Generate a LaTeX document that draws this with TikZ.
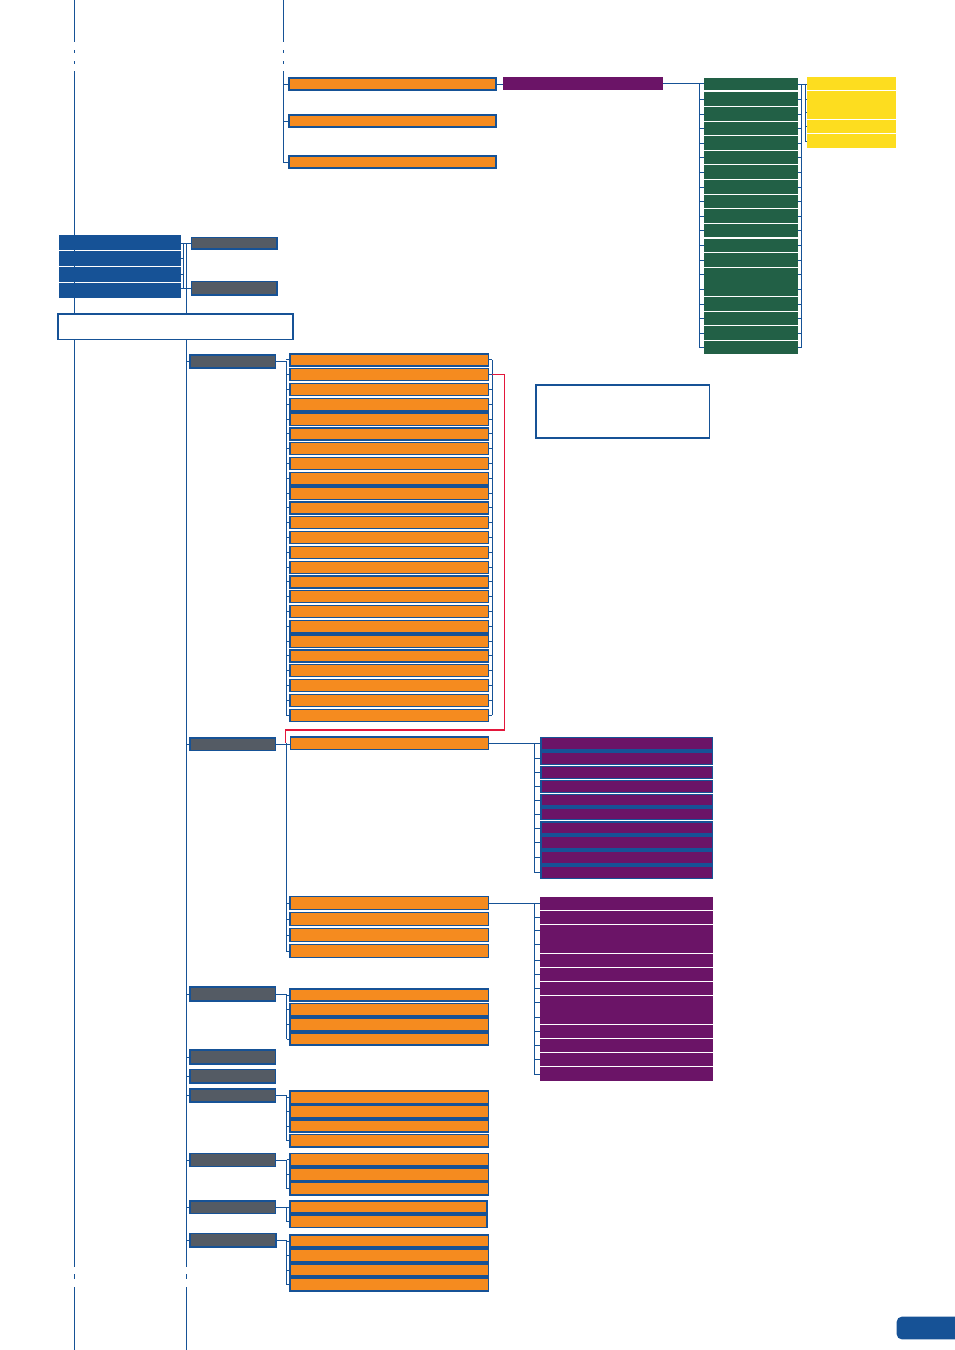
\documentclass[tikz,border=0pt]{standalone}
\usetikzlibrary{calc}
\definecolor{lb}{RGB}{22,82,150}
\definecolor{og}{RGB}{245,139,31}
\definecolor{pu}{RGB}{107,20,103}
\definecolor{gn}{RGB}{34,96,70}
\definecolor{ye}{RGB}{253,221,31}
\definecolor{gy}{RGB}{84,91,100}
\definecolor{rd}{RGB}{227,23,59}
\pgfdeclarelayer{bg}
\pgfsetlayers{bg,main}
\newcommand\bxd[6]{\node[#2,minimum width={(#5-#3-1.3)*1pt},minimum height={(#6-#4-1.3)*1pt}] (#1) at ({(#3+#5)/2},{(#4+#6)/2}) {};}
\newcommand\bxf[6]{\node[#2,minimum width={(#5-#3)*1pt},minimum height={(#6-#4)*1pt}] (#1) at ({(#3+#5)/2},{(#4+#6)/2}) {};}
\tikzset{
 bx/.style={rectangle,inner sep=0pt,outer sep=0pt},
 ob/.style={bx,fill=og,draw=lb,line width=1.3pt},
 gyb/.style={bx,fill=gy,draw=lb,line width=1.3pt},
 pb/.style={bx,fill=pu},
 gnb/.style={bx,fill=gn},
 yb/.style={bx,fill=ye},
 bb/.style={bx,fill=lb},
 wb/.style={bx,fill=white,draw=lb,line width=1.4pt},
 ln/.style={draw=lb,line width=1pt},
 rl/.style={draw=rd,line width=1.3pt},
}
\begin{document}
\begin{tikzpicture}[x=1pt,y=-1pt]
\useasboundingbox (0,0) rectangle (954,1350);
% spine coordinates
\coordinate (s0) at (283,0);
\coordinate (s1) at (183.3,0);
\coordinate (m) at (186,0);
\coordinate (sa) at (286,0);
\coordinate (ra) at (492.3,0);
\coordinate (sb) at (286.3,0);
\coordinate (sc) at (534.3,0);
\coordinate (se) at (286.7,0);
\coordinate (gsL) at (699.3,0);
\coordinate (gsR) at (801.7,0);
\coordinate (ysp) at (805,0);
\coordinate (rr) at (285.7,730);
% ---------- top ----------
\bxd{t1}{ob}{288.3}{77.3}{496.7}{90.7}
\bxd{t2}{ob}{288.3}{114.3}{496.7}{127.7}
\bxd{t3}{ob}{288.3}{155.3}{496.7}{168.7}
\bxf{p0}{pb}{503}{77}{663}{90}
\foreach \i/\ya/\yb in {1/78/90,2/92/106,3/107/121,4/122/135,5/136/150,6/151/164,7/165/179,8/180/194,9/195/208,10/209/223,11/224/237,12/239/252,13/253/267,14/268/296,15/297/311,16/312/325,17/326/340,18/341/354}{\bxf{gr\i}{gnb}{704}{\ya}{798}{\yb}}
\bxf{ye1}{yb}{807}{77}{896}{90}
\bxf{ye2}{yb}{807}{91}{896}{119}
\bxf{ye3}{yb}{807}{120}{896}{133}
\bxf{ye4}{yb}{807}{134}{896}{148}
% ---------- left ----------
\bxf{bl1}{bb}{59}{235}{181}{250}
\bxf{bl2}{bb}{59}{251}{181}{266}
\bxf{bl3}{bb}{59}{267}{181}{282}
\bxf{bl4}{bb}{59}{283}{181}{298}
\bxd{ga}{gyb}{191}{237}{277.7}{249.7}
\bxd{gb}{gyb}{191}{281}{277.7}{295.7}
\bxd{wr1}{wb}{57.3}{313.3}{293.7}{340.3}
\bxd{wr2}{wb}{535.3}{384.3}{710.3}{438.7}
% gray column
\bxd{G1}{gyb}{189.3}{354.3}{276}{368.7}
\bxd{G2}{gyb}{189.3}{737.3}{276}{751.3}
\bxd{G3}{gyb}{189.3}{986.3}{276}{1001.7}
\bxd{G4}{gyb}{189.3}{1049.3}{276}{1064.7}
\bxd{G5}{gyb}{189.3}{1069}{276}{1083.7}
\bxd{G6}{gyb}{189.3}{1088.3}{276}{1102.7}
\bxd{G7}{gyb}{189.3}{1153}{276}{1167.3}
\bxd{G8}{gyb}{189.3}{1200.3}{276}{1214.3}
\bxd{G9}{gyb}{189.3}{1233}{276.7}{1247.7}
% ---------- column a (25 boxes) ----------
\foreach \p in {3,8,18}{
 \pgfmathsetmacro\ya{353.3+14.8*\p}
 \pgfmathsetmacro\yb{353.3+14.8*(\p+1)+13.3}
 \fill[lb] (289.3,\ya) rectangle (489,\yb);
}
\foreach \k in {0,...,24}{
 \pgfmathsetmacro\ya{353.3+14.8*\k}
 \pgfmathsetmacro\yb{\ya+13.3}
 \bxd{a\k}{ob}{289.3}{\ya}{489}{\yb}
}
% ---------- column b ----------
\bxd{b0}{ob}{290}{736.3}{489}{750.3}
\bxd{b1}{ob}{289.3}{896}{489}{910}
\bxd{b2}{ob}{289.3}{912}{489}{926}
\bxd{b3}{ob}{289.3}{928}{489}{942}
\bxd{b4}{ob}{289.3}{944}{489}{958}
% purple group c
\fill[lb] (540.3,737.3) rectangle (713,764.7);
\fill[lb] (540.3,766) rectangle (713,778.7);
\fill[lb] (540.3,780) rectangle (713,792.7);
\fill[lb] (540.3,794) rectangle (713,819.7);
\fill[lb] (540.3,821) rectangle (713,878.7);
\foreach \i/\ya/\yb in {1/738.3/749,2/753/764,3/767/777.7,4/781/791.7,5/795/805.3,6/809/819.3,7/823/833,8/837/847.7,9/852/862.7,10/867/877.7}{\bxf{c\i}{pb}{541.7}{\ya}{712}{\yb}}
% purple group d
\foreach \i/\ya/\yb in {1/897/910,2/911/924,3/925/953,4/954/967,5/968/981,6/982/995,7/996/1024,8/1025/1038,9/1039/1052,10/1053/1066,11/1067/1081}{\bxf{d\i}{pb}{540}{\ya}{713}{\yb}}
% ---------- group e ----------
\fill[lb] (289.3,1002.7) rectangle (489,1045.7);
\bxd{e1}{ob}{289.3}{988.3}{489}{1001.7}
\bxd{e2}{ob}{289.3}{1002.7}{489}{1016.3}
\bxd{e3}{ob}{289.3}{1017.3}{489}{1031.3}
\bxd{e4}{ob}{289.3}{1032.3}{489}{1045.7}
% group f
\fill[lb] (289.3,1090.3) rectangle (489,1132.7);
\bxd{f1}{ob}{289.3}{1090.3}{489}{1104}
\bxd{f2}{ob}{289.3}{1105}{489}{1118.5}
\bxd{f3}{ob}{289.3}{1119.5}{489}{1132.7}
\bxd{f4}{ob}{289.3}{1134}{489}{1147.7}
% group h
\fill[lb] (289.3,1153) rectangle (489,1195.7);
\bxd{h1}{ob}{289.3}{1153}{489}{1166.7}
\bxd{h2}{ob}{289.3}{1167.7}{489}{1181}
\bxd{h3}{ob}{289.3}{1182}{489}{1195.7}
% group i
\fill[lb] (289.3,1200.3) rectangle (487.7,1228.3);
\bxd{i1}{ob}{289.3}{1200.3}{487.7}{1213.7}
\bxd{i2}{ob}{289.3}{1214.7}{487.7}{1228.3}
% group j
\fill[lb] (289.3,1234.3) rectangle (489,1291.7);
\bxd{j1}{ob}{289.3}{1234.3}{489}{1247.7}
\bxd{j2}{ob}{289.3}{1248.7}{489}{1262.3}
\bxd{j3}{ob}{290}{1263.3}{489}{1276.7}
\bxd{j4}{ob}{290}{1277.7}{489}{1291.7}
% tab
\fill[lb,rounded corners=5pt] (896.7,1316.7) rectangle (965,1339.3);
% ================= lines =================
\begin{pgfonlayer}{bg}
% long verticals
\foreach \x in {74,283}{
 \draw[ln] (\x,0)--(\x,42) (\x,50)--(\x,53) (\x,61)--(\x,64);}
\draw[ln] (74,71)--(74,1266.7) (74,1274)--(74,1279) (74,1287)--(74,1350);
\draw[ln] (m |- ga.west)--(186,1266.7) (186,1274)--(186,1279) (186,1287)--(186,1350);
% top bracket
\draw[ln] (283,71) -- (s0 |- t3.west) -- (t3.west);
\draw[ln] (s0 |- t1.west) -- (t1.west);
\draw[ln] (s0 |- t2.west) -- (t2.west);
\draw[ln] (t1.east) -- (t1.east -| p0.west);
\draw[ln] (p0.east) -- (p0.east -| gr1.west);
% green brackets
\draw[ln] (gsL |- gr1.west) -- (gsL |- gr18.west) -- (gr18.west);
\foreach \i in {2,...,13,15,16,17} \draw[ln] (gsL |- gr\i.west) -- (gr\i.west);
\draw[ln] (699.3,274.3) -- (704,274.3) (699.3,289.3) -- (704,289.3);
\draw[ln] (gr1.east) -- (gr1.east -| ye1.west);
\draw[ln] (gsR |- gr1.east) -- (gsR |- gr18.east) -- (gr18.east);
\foreach \i in {2,...,13,15,16,17} \draw[ln] (gr\i.east) -- (gsR |- gr\i.east);
\draw[ln] (798,274.3) -- (801.7,274.3) (798,289.3) -- (801.7,289.3);
% yellow bracket
\draw[ln] (ysp |- ye1.west) -- (ysp |- ye4.west) -- (ye4.west);
\draw[ln] (ysp |- ye3.west) -- (ye3.west);
\draw[ln] (805,99.3) -- (807,99.3) (805,112.3) -- (807,112.3);
% left blue cluster
\draw[ln] (bl1.east |- ga.west) -- (ga.west);
\draw[ln] (s1 |- ga.west) -- (s1 |- gb.west);
\draw[ln] (bl2.east) -- (s1 |- bl2.east);
\draw[ln] (bl3.east) -- (s1 |- bl3.east);
\draw[ln] (bl4.east |- gb.west) -- (gb.west);
% gray column ticks
\foreach \g in {G1,G2,G3,G4,G5,G6,G7,G8,G9} \draw[ln] (m |- \g.west) -- (\g.west);
% column a
\draw[ln] (G1.east) -- (sa |- G1.east) -- (sa |- a24.west);
\foreach \k in {0,...,24}{
 \draw[ln] (sa |- a\k.west) -- (a\k.west);
 \draw[ln] (a\k.east) -- (ra |- a\k.east);}
\draw[ln] (ra |- a0.east) -- (ra |- a24.east);
% column b
\draw[ln] (G2.east) -- (G2.east -| b0.west);
\draw[ln] (sb |- b0.west) -- (sb |- b4.west);
\foreach \k in {1,...,4} \draw[ln] (sb |- b\k.west) -- (b\k.west);
\draw[ln] (b0.east) -- (b0.east -| c1.west);
\draw[ln] (sc |- c1.west) -- (sc |- c10.west);
\foreach \i in {2,...,10} \draw[ln] (sc |- c\i.west) -- (c\i.west);
\draw[ln] (b1.east) -- (b1.east -| d1.west);
\draw[ln] (sc |- d1.west) -- (sc |- d11.west);
\foreach \i in {2,4,5,6,8,9,10,11} \draw[ln] (sc |- d\i.west) -- (d\i.west);
\draw[ln] (534.3,930.3) -- (540,930.3) (534.3,944.3) -- (540,944.3)
          (534.3,1002.3) -- (540,1002.3) (534.3,1017.3) -- (540,1017.3);
% groups e,f,h,i,j
\draw[ln] (G3.east) -- (se |- G3.east) -- (se |- e4.west);
\foreach \n in {e1,e2,e3,e4} \draw[ln] (se |- \n.west) -- (\n.west);
\draw[ln] (G6.east) -- (se |- G6.east) -- (se |- f4.west);
\foreach \n in {f1,f2,f3,f4} \draw[ln] (se |- \n.west) -- (\n.west);
\draw[ln] (G7.east) -- (se |- G7.east) -- (se |- h3.west);
\foreach \n in {h1,h2,h3} \draw[ln] (se |- \n.west) -- (\n.west);
\draw[ln] (G8.east) -- (se |- G8.east) -- (se |- i2.west);
\foreach \n in {i1,i2} \draw[ln] (se |- \n.west) -- (\n.west);
\draw[ln] (G9.east) -- (se |- G9.east) -- (se |- j4.west);
\foreach \n in {j1,j2,j3,j4} \draw[ln] (se |- \n.west) -- (\n.west);
\end{pgfonlayer}
% red link
\draw[rl] (ra |- a1.east) -| (504.3,730) -- (rr) -- (rr |- b0.west);
\end{tikzpicture}
\end{document}
